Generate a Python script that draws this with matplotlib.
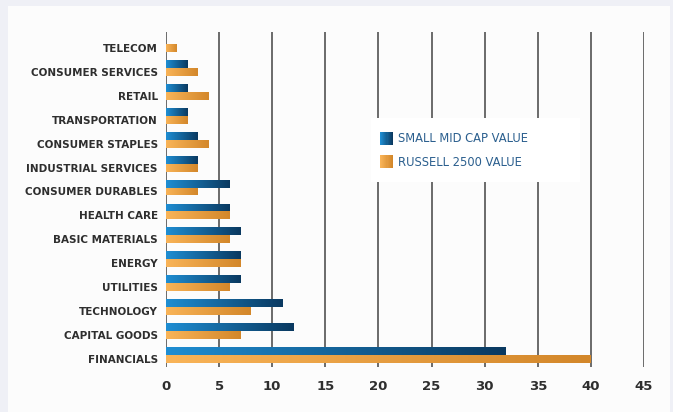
import numpy as np
import matplotlib
matplotlib.use('Agg')
import matplotlib.pyplot as plt
from matplotlib.patches import Rectangle
from matplotlib.colors import LinearSegmentedColormap
from matplotlib.legend_handler import HandlerBase

# data
sectors = ['TELECOM', 'CONSUMER SERVICES', 'RETAIL', 'TRANSPORTATION',
           'CONSUMER STAPLES', 'INDUSTRIAL SERVICES', 'CONSUMER DURABLES',
           'HEALTH CARE', 'BASIC MATERIALS', 'ENERGY', 'UTILITIES',
           'TECHNOLOGY', 'CAPITAL GOODS', 'FINANCIALS']
small_mid_cap = [0, 2, 2, 2, 3, 3, 6, 6, 7, 7, 7, 11, 12, 32]
russell_2500 = [1, 3, 4, 2, 4, 3, 3, 6, 6, 7, 6, 8, 7, 40]
series_names = ['SMALL MID CAP VALUE', 'RUSSELL 2500 VALUE']
xticks = [0, 5, 10, 15, 20, 25, 30, 35, 40, 45]

blue_cmap = LinearSegmentedColormap.from_list('b', ['#1f8ed3', '#0a3960'])
orange_cmap = LinearSegmentedColormap.from_list('o', ['#f9b458', '#d3872a'])

plt.rcParams['font.family'] = ['DejaVu Sans']

fig = plt.figure(figsize=(6.73, 4.12), dpi=100)
fig.patch.set_facecolor('#eff0f6')
# white panel behind the chart
fig.patches.append(Rectangle((8/673, 0), 662/673, 1 - 6/412, transform=fig.transFigure,
                             facecolor='#fcfcfc', edgecolor='none', zorder=-10))

ax = fig.add_axes([166/673, 1 - 367/412, 478/673, 335/412])
ax.set_facecolor('none')

y = np.arange(len(sectors))
h = 0.33
bars_b = ax.barh(y - h/2, small_mid_cap, height=h, color='#15619a', zorder=3)
bars_o = ax.barh(y + h/2, russell_2500, height=h, color='#e89b3e', zorder=3)

# gradient fill along each bar
grad = np.linspace(0, 1, 256).reshape(1, -1)
for bars, cmap in [(bars_b, blue_cmap), (bars_o, orange_cmap)]:
    for b in bars:
        w = b.get_width()
        if w <= 0:
            continue
        b.set_facecolor('none')
        im = ax.imshow(grad, cmap=cmap, aspect='auto', zorder=3,
                       extent=(b.get_x(), b.get_x() + w, b.get_y() + b.get_height(), b.get_y()))
        im.set_clip_path(b)

ax.set_xlim(0, 45)
ax.set_ylim(len(sectors) - 0.5, -0.5)
ax.set_xticks(xticks)
# labels sit level with the lower (orange) bar
ax.set_yticks(y + h/2)
ax.set_yticklabels(sectors, fontsize=7.5, fontweight='bold', color='#2e2e2e')
ax.tick_params(axis='y', length=0, pad=6)
ax.tick_params(axis='x', length=0, pad=9, labelsize=9.5, labelcolor='#2e2e2e')
for lbl in ax.get_xticklabels():
    lbl.set_fontweight('semibold')
for s in ax.spines.values():
    s.set_visible(False)
ax.xaxis.grid(True, color='#444444', linewidth=1.1, zorder=1)
ax.set_axisbelow(True)


class GradientHandler(HandlerBase):
    def __init__(self, cmap):
        super().__init__()
        self.cmap = cmap

    def create_artists(self, legend, orig_handle, xdescent, ydescent, width, height, fontsize, trans):
        n = 12
        size = 9.4
        x0 = -xdescent - 3.6
        y0 = -ydescent + (height - size) / 2
        arts = []
        for i in range(n):
            r = Rectangle((x0 + i * size / n, y0), size / n + 0.1, size,
                          facecolor=self.cmap(i / (n - 1)), edgecolor='none', transform=trans)
            arts.append(r)
        return arts


hb = Rectangle((0, 0), 1, 1)
ho = Rectangle((0, 0), 1, 1)
leg = ax.legend([hb, ho], series_names, loc='upper left', mode='expand',
                bbox_to_anchor=(0.429, 0.45, 0.437, 0.292),
                handler_map={hb: GradientHandler(blue_cmap), ho: GradientHandler(orange_cmap)},
                fontsize=8.3, frameon=True, fancybox=False, borderpad=1.2,
                handlelength=1.0, handletextpad=0.15, labelspacing=0.9, borderaxespad=0)
leg.get_frame().set_facecolor('white')
leg.get_frame().set_edgecolor('none')
leg.get_frame().set_alpha(1)
leg.set_zorder(5)
for t in leg.get_texts():
    t.set_color('#2b5f8e')

fig.savefig('out.png', dpi=100, facecolor=fig.get_facecolor())
